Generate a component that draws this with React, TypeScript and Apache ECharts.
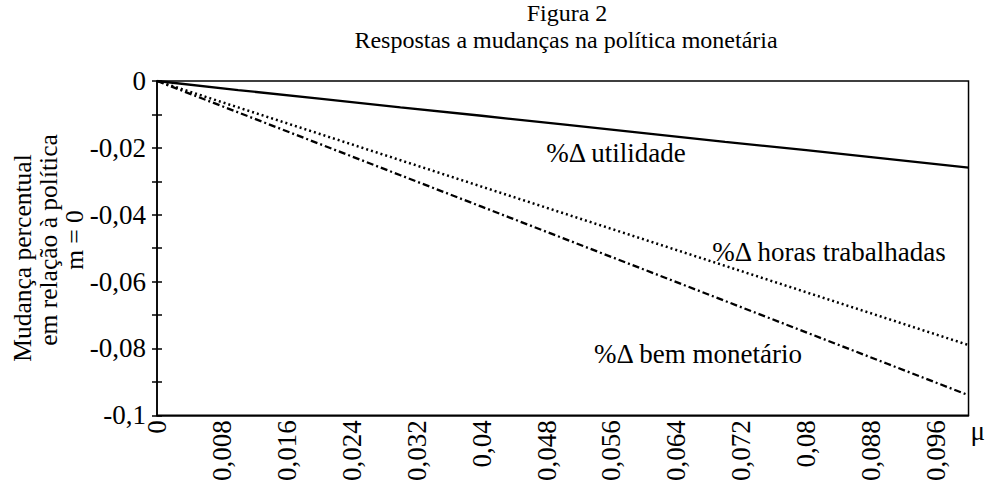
import React, { useEffect, useRef } from "react";
import * as echarts from "echarts";

const muValues = [0, 0.01, 0.02, 0.03, 0.04, 0.05, 0.06, 0.07, 0.08, 0.09, 0.1];
const utilidade = [0, -0.0027, -0.0053, -0.0079, -0.0104, -0.013, -0.0156, -0.0182, -0.0207, -0.0233, -0.0259];
const horasTrabalhadas = [0, -0.0079, -0.0158, -0.0237, -0.0316, -0.0395, -0.0474, -0.0553, -0.0632, -0.0711, -0.079];
const bemMonetario = [0, -0.0094, -0.0188, -0.0282, -0.0376, -0.047, -0.0564, -0.0658, -0.0752, -0.0846, -0.094];

const titleLines = ["Figura 2", "Respostas a mudanças na política monetária"];
const yNameLines = ["Mudança percentual", "em relação à política", "m = 0"];
const seriesLabels = ["%Δ utilidade", "%Δ horas trabalhadas", "%Δ bem monetário"];

const FONT = "Liberation Serif";
const FS = 27;

const fmt = (v: number) => String(+v.toFixed(3)).replace(".", ",");

export default function App() {
  const ref = useRef<HTMLDivElement>(null);
  useEffect(() => {
    if (!ref.current) return;
    const chart = echarts.init(ref.current, undefined, { renderer: "svg" });
    const pair = (ys: number[]) => muValues.map((x, i) => [x, ys[i]]);
    const txt = (text: string, x: number, y: number, rot = 0, fs = FS) => ({
      type: "text",
      x,
      y,
      rotation: rot,
      style: {
        text,
        fontFamily: FONT,
        fontSize: fs,
        fill: "#000",
        textAlign: "center",
        textVerticalAlign: "middle",
      },
    });
    chart.setOption({
      animation: false,
      backgroundColor: "#fff",
      grid: {
        left: 157,
        right: 16,
        top: 81,
        bottom: 66,
        show: true,
        borderColor: "#000",
        borderWidth: 1.5,
        backgroundColor: "transparent",
      },
      xAxis: {
        type: "value",
        min: 0,
        max: 0.1,
        interval: 0.008,
        name: "μ",
        nameLocation: "end",
        nameGap: 2,
        nameTextStyle: { fontFamily: FONT, fontSize: FS, color: "#000", verticalAlign: "top", padding: [2, 0, 0, 0] },
        axisLine: { show: true, onZero: false, lineStyle: { color: "#000", width: 1.5 } },
        axisTick: { show: false },
        splitLine: { show: false },
        axisLabel: {
          rotate: 90,
          showMaxLabel: false,
          margin: 5,
          fontFamily: FONT,
          fontSize: FS,
          color: "#000",
          formatter: (v: number) => fmt(v),
        },
      },
      yAxis: [
        {
          type: "value",
          min: -0.1,
          max: 0,
          interval: 0.02,
          axisLine: { show: true, onZero: false, lineStyle: { color: "#000", width: 1.5 } },
          axisTick: { show: true, inside: false, length: 5, lineStyle: { color: "#000", width: 1.5 } },
          minorTick: { show: true, splitNumber: 2, length: 5, lineStyle: { color: "#000", width: 1.5 } },
          splitLine: { show: false },
          axisLabel: {
            margin: 11,
            fontFamily: FONT,
            fontSize: FS,
            color: "#000",
            formatter: (v: number) => fmt(v),
          },
        },
        {
          type: "value",
          position: "left",
          min: -0.1,
          max: 0,
          interval: 0.02,
          axisLine: { show: false },
          axisTick: { show: true, inside: true, length: 5, lineStyle: { color: "#000", width: 1.5 } },
          minorTick: { show: true, splitNumber: 2, length: 5, lineStyle: { color: "#000", width: 1.5 } },
          splitLine: { show: false },
          axisLabel: { show: false },
        },
      ],
      series: [
        {
          type: "line",
          data: pair(utilidade),
          showSymbol: false,
          lineStyle: { color: "#000", width: 2.3, type: "solid" },
        },
        {
          type: "line",
          data: pair(horasTrabalhadas),
          showSymbol: false,
          lineStyle: { color: "#000", width: 2.5, type: [2, 3] },
        },
        {
          type: "line",
          data: pair(bemMonetario),
          showSymbol: false,
          lineStyle: { color: "#000", width: 2.3, type: [7, 3, 2, 3] },
        },
      ],
      graphic: [
        txt(titleLines[0], 567, 13, 0, 24),
        txt(titleLines[1], 566, 40, 0, 24),
        txt(yNameLines[0], 22, 258, Math.PI / 2, 25.5),
        txt(yNameLines[1], 48, 240, Math.PI / 2, 25.5),
        txt(yNameLines[2], 74, 240, Math.PI / 2, 25.5),
        txt(seriesLabels[0], 616, 153),
        txt(seriesLabels[1], 829, 252),
        txt(seriesLabels[2], 698, 354),
      ],
    });
    return () => chart.dispose();
  }, []);
  return <div ref={ref} style={{ width: 988, height: 484, position: "absolute", left: 0, top: 0 }} />;
}
